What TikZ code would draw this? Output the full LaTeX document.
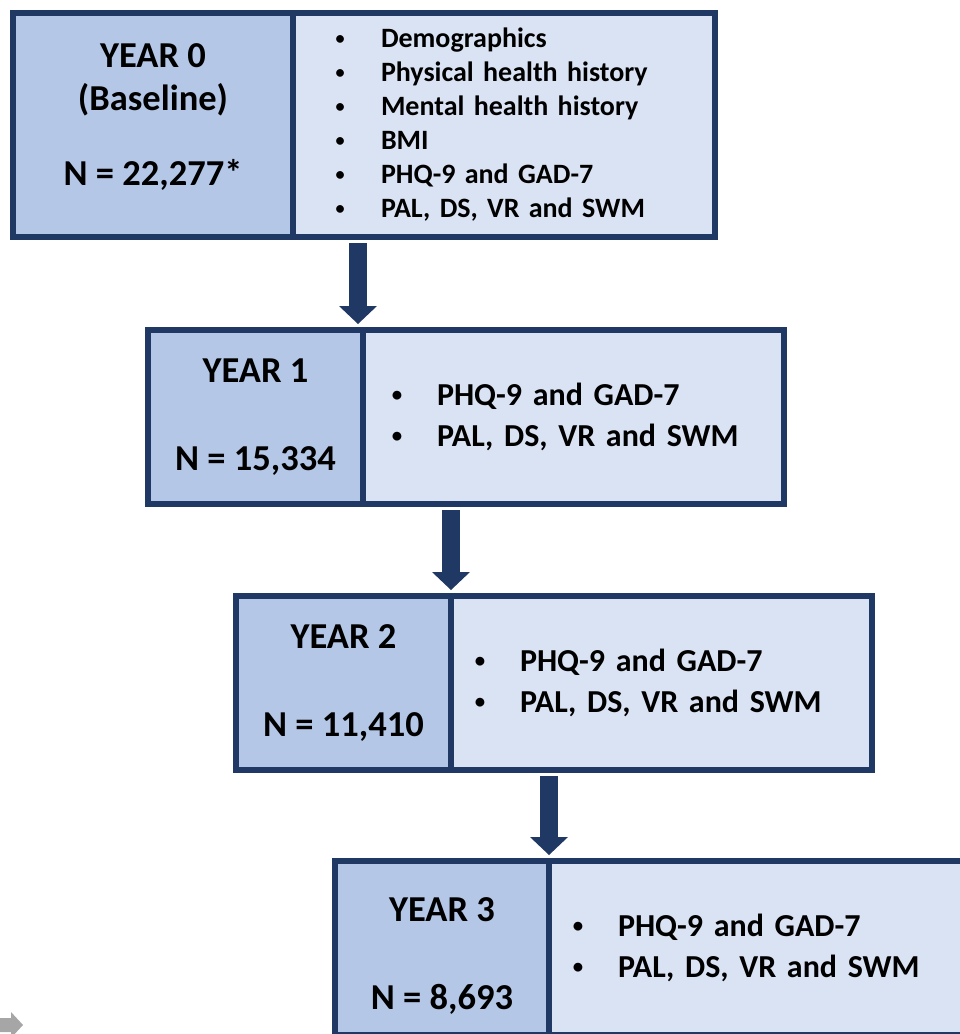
\documentclass[tikz,border=0pt]{standalone}
\usepackage{fontspec}
\setmainfont{Carlito}
\usepackage{graphicx}
\usepackage{tikz}
\usetikzlibrary{arrows.meta,positioning}
\definecolor{navyedge}{HTML}{203864}
\definecolor{yearfill}{HTML}{B4C7E7}
\definecolor{listfill}{HTML}{DAE3F3}
\definecolor{cornergray}{HTML}{A6A6A6}
\newcommand{\itm}{\makebox[48pt][l]{\hspace{0.09em}\raisebox{0.12em}{\scalebox{0.65}{\textbullet}}}}

\begin{document}
\begin{tikzpicture}[
  x=1pt, y=-1pt,
  yearbox/.style={rectangle, draw=navyedge, line width=6pt, fill=yearfill, anchor=north west, outer sep=0pt, inner sep=0pt, align=center, minimum width=#1, minimum height=174pt, font=\fontsize{36.5pt}{43pt}\selectfont\bfseries},
  listbox/.style={rectangle, draw=navyedge, line width=6pt, fill=listfill, outer sep=0pt, inner sep=0pt, align=left, text width=#1, minimum width=421pt, minimum height=174pt, font=\fontsize{32pt}{40.5pt}\selectfont\bfseries},
  flowarrow/.style={draw=navyedge, line width=18pt, -{Triangle[width=38pt,length=18pt,line width=0pt]}, shorten <=6pt, shorten >=6pt}
]
\clip (0,0) rectangle (960,1034);
% year 0
\node[yearbox=280pt, minimum height=224pt] (y0) at (13,13) {YEAR 0\\(Baseline)\\[32pt]N = 22,277*\rule[-20pt]{0pt}{1pt}};
\node[listbox=342pt, minimum width=422pt, minimum height=224pt, font=\fontsize{28pt}{34pt}\selectfont\bfseries, right=0pt of y0] (i0) {\itm Demographics\\\itm Physical health history\\\itm Mental health history\\\itm BMI\\\itm PHQ-9 and GAD-7\\\itm PAL, DS, VR and SWM};
% year 1
\node[yearbox=215pt] (y1) at (148,330) {YEAR 1\\[45pt]N = 15,334};
\node[listbox=369pt, right=0pt of y1] (i1) {\itm PHQ-9 and GAD-7\\\itm PAL, DS, VR and SWM};
% year 2
\node[yearbox=215pt] (y2) at (236,596) {YEAR 2\\[45pt]N = 11,410};
\node[listbox=379pt, right=0pt of y2] (i2) {\itm PHQ-9 and GAD-7\\\itm PAL, DS, VR and SWM};
% year 3
\node[yearbox=214pt] (y3) at (335,861) {\rule{0pt}{40pt}YEAR 3\\[45pt]N = 8,693};
\node[listbox=379pt, right=0pt of y3] (i3) {\itm PHQ-9 and GAD-7\\\itm PAL, DS, VR and SWM};
% arrows
\draw[flowarrow] ([xshift=-5pt]y1.north east |- y0.south) -- ([xshift=-5pt]y1.north east);
\draw[flowarrow] (y2.north east |- y1.south) -- (y2.north east);
\draw[flowarrow] (y3.north east |- y2.south) -- (y3.north east);
% corner mark
\fill[cornergray] (0,1018) -- (11,1018) -- (11,1012) -- (23,1025) -- (11,1038) -- (11,1032) -- (0,1032) -- cycle;
\end{tikzpicture}
\end{document}
